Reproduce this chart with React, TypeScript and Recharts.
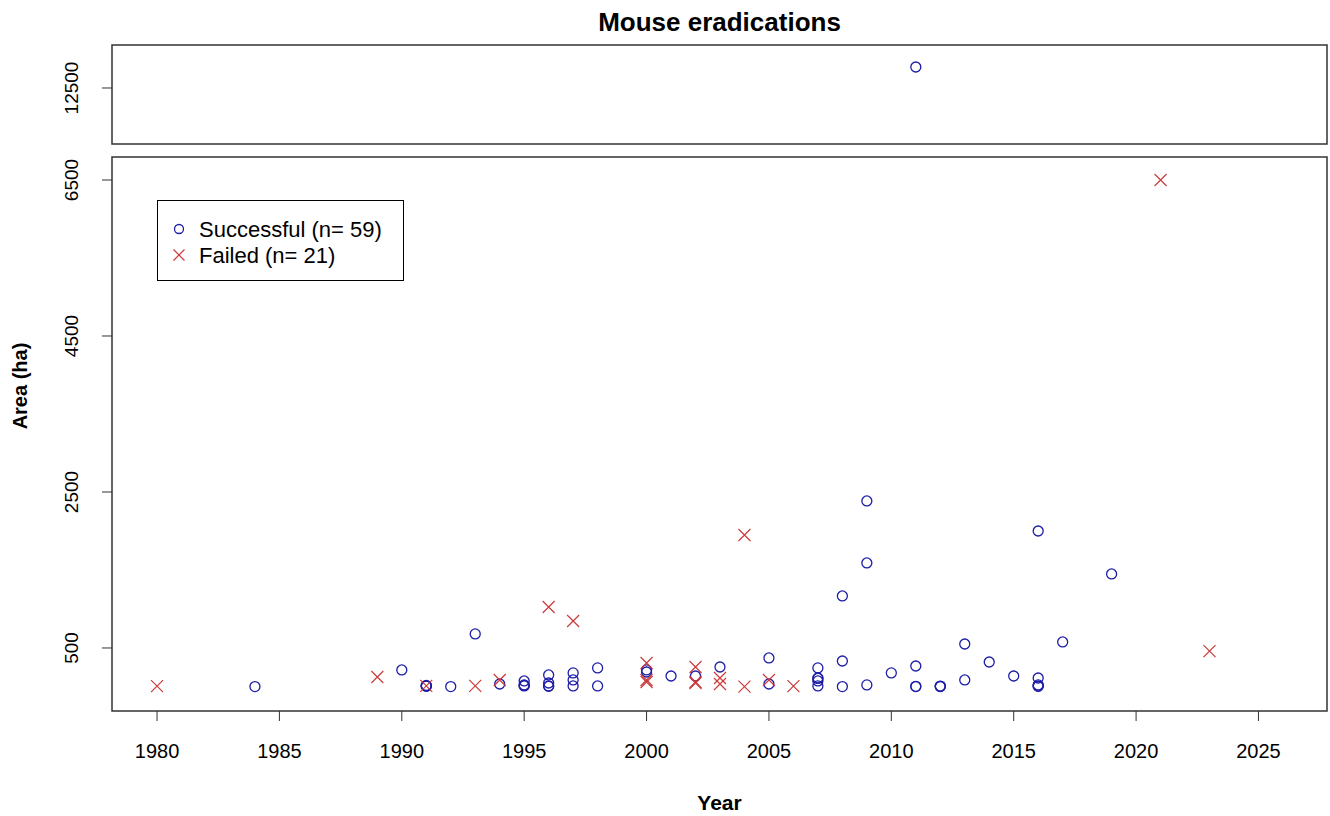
import React from "react";
import { ScatterChart, Scatter, XAxis, YAxis, ReferenceArea } from "recharts";

// ---- data ----
const successYears = [
  1984, 1990, 1991, 1991, 1991, 1991, 1992, 1993, 1994, 1995, 1995, 1995, 1995,
  1996, 1996, 1996, 1996, 1997, 1997, 1997, 1998, 1998, 2000, 2000, 2001, 2002,
  2003, 2005, 2005, 2007, 2007, 2007, 2007, 2007, 2008, 2008, 2008, 2009, 2009,
  2009, 2010, 2011, 2011, 2011, 2012, 2012, 2012, 2013, 2013, 2014, 2015, 2016,
  2016, 2016, 2016, 2016, 2017, 2019,
];
const successArea = [
  5, 218, 15, 10, 20, 12, 5, 680, 38, 77, 26, 13, 20,
  154, 51, 13, 8, 180, 90, 13, 244, 13, 218, 192, 141, 141,
  256, 372, 38, 244, 115, 77, 13, 110, 1167, 333, 5, 2385, 1590,
  26, 180, 269, 5, 8, 5, 8, 12, 551, 90, 320, 141, 2000,
  115, 26, 8, 12, 577, 1449,
];
const topYears = [2011];
const topArea = [12800];

const failedYears = [
  1980, 1989, 1991, 1993, 1994, 1996, 1997, 2000, 2000, 2000, 2002, 2002, 2002,
  2003, 2003, 2004, 2004, 2005, 2006, 2021, 2023,
];
const failedArea = [
  10, 128, 15, 15, 90, 1025, 846, 308, 90, 64, 256, 64, 50,
  115, 38, 1949, 5, 90, 10, 6500, 460,
];

const xTicks = [1980, 1985, 1990, 1995, 2000, 2005, 2010, 2015, 2020, 2025];
const yTicksLow = [500, 2500, 4500, 6500];
const yTicksHigh = [12500];

const successData = successYears.map((y, i) => ({ year: y, area: successArea[i] }));
const topData = topYears.map((y, i) => ({ year: y, area: topArea[i] }));
const failedData = failedYears.map((y, i) => ({ year: y, area: failedArea[i] }));

const X_DOMAIN: [number, number] = [1978.16, 2027.8];
const Y_LOW: [number, number] = [-308, 6795];
const Y_HIGH: [number, number] = [11700, 13114];

const BLUE = "#1d1da8";
const RED = "#cc3a3a";
const FONT = "'Liberation Sans', Arial, sans-serif";

const CircleShape = (p: any) => (
  <circle cx={p.cx} cy={p.cy} r={5} fill="none" stroke={BLUE} strokeWidth={1.3} />
);
const CrossShape = (p: any) => (
  <path
    d={`M${p.cx - 6},${p.cy - 6}L${p.cx + 6},${p.cy + 6}M${p.cx - 6},${p.cy + 6}L${p.cx + 6},${p.cy - 6}`}
    stroke={RED}
    strokeWidth={1.2}
    fill="none"
  />
);

const XTick = (p: any) => (
  <text x={p.x} y={p.y + 35} textAnchor="middle" fontSize={20} fill="#000" fontFamily={FONT}>
    {p.payload.value}
  </text>
);
const YTick = (p: any) => {
  const bx = p.x - 22;
  return (
    <text
      x={bx}
      y={p.y}
      textAnchor="middle"
      fontSize={19}
      fill="#000"
      fontFamily={FONT}
      transform={`rotate(-90, ${bx}, ${p.y})`}
    >
      {p.payload.value}
    </text>
  );
};

const LegendBox = () => (
  <div
    style={{
      position: "absolute",
      left: 157,
      top: 200,
      width: 245,
      height: 79,
      border: "1px solid #000",
      background: "#fff",
    }}
  >
    <svg width={245} height={79} style={{ position: "absolute", left: 0, top: 0 }}>
      <circle cx={21} cy={28} r={4.5} fill="none" stroke={BLUE} strokeWidth={1.3} />
      <path d="M15.5,48.5L26.5,59.5M15.5,59.5L26.5,48.5" stroke={RED} strokeWidth={1.2} />
      <text x={41} y={36} fontSize={22} fontFamily={FONT} fill="#000">Successful (n= 59)</text>
      <text x={41} y={62} fontSize={22} fontFamily={FONT} fill="#000">Failed (n= 21)</text>
    </svg>
  </div>
);

export default function App() {
  return (
    <div style={{ position: "absolute", left: 0, top: 0, width: 1330, height: 816, background: "#fff", fontFamily: FONT }}>
      {/* top (broken-axis) panel */}
      <div style={{ position: "absolute", left: 0, top: 0 }}>
        <ScatterChart width={1330} height={150} margin={{ top: 45, right: 3, bottom: 6, left: 52 }}>
          <XAxis type="number" dataKey="year" domain={X_DOMAIN} hide allowDataOverflow />
          <YAxis
            type="number"
            dataKey="area"
            domain={Y_HIGH}
            ticks={yTicksHigh}
            width={60}
            axisLine={false}
            tickSize={10}
            tickLine={{ stroke: "#333" }}
            tick={<YTick />}
            allowDataOverflow
          />
          <ReferenceArea
            x1={X_DOMAIN[0]}
            x2={X_DOMAIN[1]}
            y1={Y_HIGH[0]}
            y2={Y_HIGH[1]}
            fill="none"
            fillOpacity={0}
            stroke="#333"
            strokeWidth={1.5}
            ifOverflow="visible"
          />
          <Scatter data={topData} shape={<CircleShape />} isAnimationActive={false} />
        </ScatterChart>
      </div>
      {/* main panel */}
      <div style={{ position: "absolute", left: 0, top: 0 }}>
        <ScatterChart width={1330} height={816} margin={{ top: 157, right: 3, bottom: 45, left: 52 }}>
          <XAxis
            type="number"
            dataKey="year"
            domain={X_DOMAIN}
            ticks={xTicks}
            height={60}
            axisLine={false}
            tickSize={10}
            tickLine={{ stroke: "#333" }}
            tick={<XTick />}
            allowDataOverflow
          />
          <YAxis
            type="number"
            dataKey="area"
            domain={Y_LOW}
            ticks={yTicksLow}
            width={60}
            axisLine={false}
            tickSize={10}
            tickLine={{ stroke: "#333" }}
            tick={<YTick />}
            allowDataOverflow
          />
          <ReferenceArea
            x1={X_DOMAIN[0]}
            x2={X_DOMAIN[1]}
            y1={Y_LOW[0]}
            y2={Y_LOW[1]}
            fill="none"
            fillOpacity={0}
            stroke="#333"
            strokeWidth={1.5}
            ifOverflow="visible"
          />
          <Scatter name="Successful (n= 59)" data={successData} shape={<CircleShape />} isAnimationActive={false} />
          <Scatter name="Failed (n= 21)" data={failedData} shape={<CrossShape />} isAnimationActive={false} />
        </ScatterChart>
      </div>
      <LegendBox />
      <div style={{ position: "absolute", left: 112, width: 1215, top: 7, textAlign: "center", fontSize: 26, fontWeight: "bold", lineHeight: "30px" }}>
        Mouse eradications
      </div>
      <div style={{ position: "absolute", left: 112, width: 1215, top: 791, textAlign: "center", fontSize: 21, fontWeight: "bold" }}>
        Year
      </div>
      <div
        style={{
          position: "absolute",
          left: 20 - 60,
          top: 386 - 12,
          width: 120,
          height: 24,
          lineHeight: "24px",
          textAlign: "center",
          fontSize: 20,
          fontWeight: "bold",
          transform: "rotate(-90deg)",
        }}
      >
        Area (ha)
      </div>
    </div>
  );
}
